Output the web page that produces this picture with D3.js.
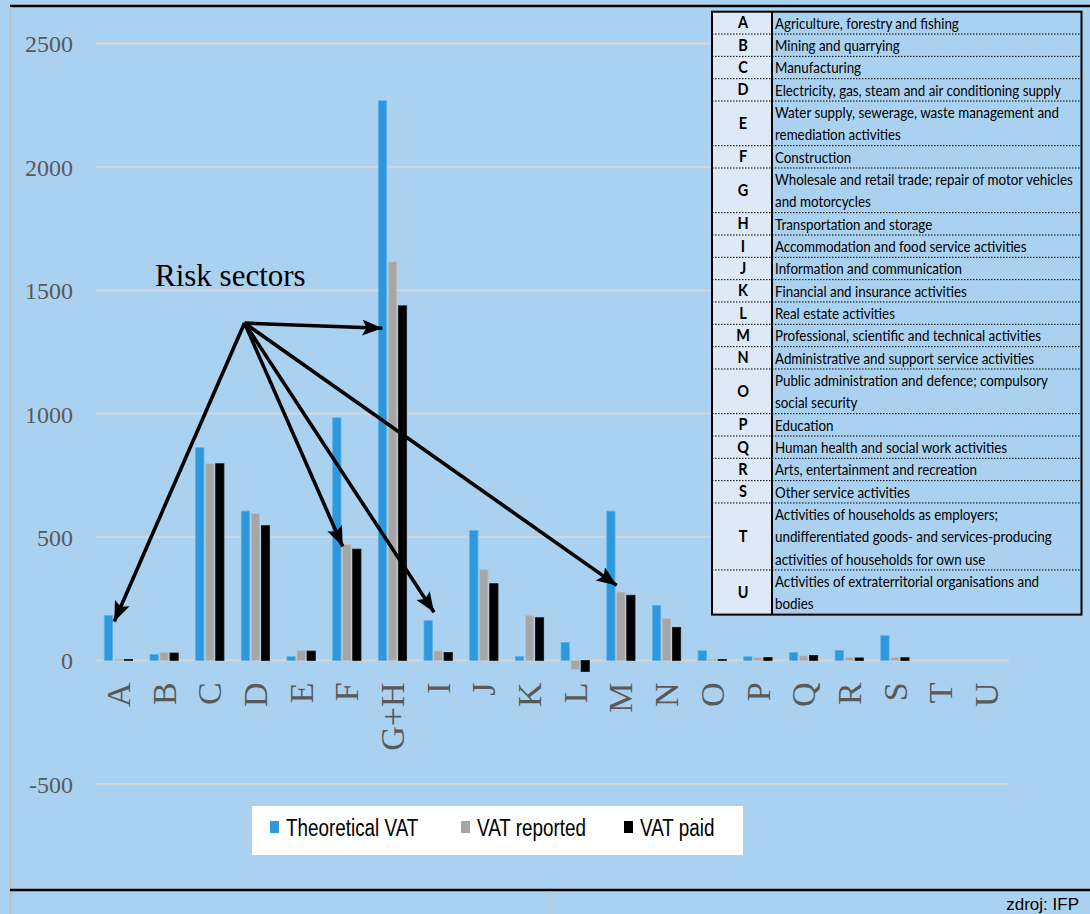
<!DOCTYPE html>
<html>
<head>
<meta charset="utf-8">
<script src="https://cdn.jsdelivr.net/npm/d3@7/dist/d3.min.js"></script>
<style>
  html, body { margin: 0; padding: 0; background: #aad2f0; }
  svg { display: block; }
</style>
</head>
<body>
<svg id="chart" width="1090" height="914"></svg>
<script>
// ---------------- DATA ----------------
const categories = ["A","B","C","D","E","F","G+H","I","J","K","L","M","N","O","P","Q","R","S","T","U"];
const seriesNames = ["Theoretical VAT", "VAT reported", "VAT paid"];
const theoreticalVAT = [182, 24, 862, 605, 15, 983, 2268, 161, 526, 15, 73, 605, 223, 39, 15, 32, 40, 100, 0, 0];
const vatReported    = [5, 32, 797, 595, 40, 470, 1615, 38, 368, 182, -36, 277, 170, 4, 11, 18, 12, 12, 0, 0];
const vatPaid        = [4, 30, 797, 546, 38, 451, 1437, 32, 311, 173, -45, 264, 134, 4, 12, 20, 10, 11, 0, 0];
const yTicks = [-500, 0, 500, 1000, 1500, 2000, 2500];

const annotationLabel = "Risk sectors";
// arrow targets (category, series bar it points at, value level)
const riskTargets = [
  {cat: "A",   series: "VAT reported",    value: 158},
  {cat: "F",   series: "VAT reported",    value: 462},
  {cat: "G+H", series: "Theoretical VAT", value: 1346},
  {cat: "I",   series: "VAT reported",    value: 195},
  {cat: "M",   series: "VAT reported",    value: 304}
];
const riskOrigin = {cat: "D", value: 1367};

const sectorCodes = ["A","B","C","D","E","F","G","H","I","J","K","L","M","N","O","P","Q","R","S","T","U"];
const sectorNames = [
  ["Agriculture, forestry and fishing"],
  ["Mining and quarrying"],
  ["Manufacturing"],
  ["Electricity, gas, steam and air conditioning supply"],
  ["Water supply, sewerage, waste management and", "remediation activities"],
  ["Construction"],
  ["Wholesale and retail trade; repair of motor vehicles", "and motorcycles"],
  ["Transportation and storage"],
  ["Accommodation and food service activities"],
  ["Information and communication"],
  ["Financial and insurance activities"],
  ["Real estate activities"],
  ["Professional, scientific and technical activities"],
  ["Administrative and support service activities"],
  ["Public administration and defence; compulsory", "social security"],
  ["Education"],
  ["Human health and social work activities"],
  ["Arts, entertainment and recreation"],
  ["Other service activities"],
  ["Activities of households as employers;", "undifferentiated goods- and services-producing", "activities of households for own use"],
  ["Activities of extraterritorial organisations and", "bodies"]
];
const sourceText = "zdroj: IFP";

// ---------------- LAYOUT ----------------
const W = 1090, H = 914;
const BG = "#aad2f0";
const colors = {"Theoretical VAT": "#2e98dc", "VAT reported": "#a6a6a6", "VAT paid": "#000000"};
const strokes = {"Theoretical VAT": "#5ab0e8", "VAT reported": "#bdbdbd", "VAT paid": "#1a1a1a"};

const svg = d3.select("#chart");
svg.append("rect").attr("width", W).attr("height", H).attr("fill", BG);

// frame lines
svg.append("line").attr("x1", 10).attr("x2", W).attr("y1", 6).attr("y2", 6)
  .attr("stroke", "#000").attr("stroke-width", 2.5);
svg.append("line").attr("x1", 10.5).attr("x2", 10.5).attr("y1", 7).attr("y2", H)
  .attr("stroke", "#c0c0c0").attr("stroke-width", 2);
svg.append("line").attr("x1", 10).attr("x2", W).attr("y1", 890).attr("y2", 890)
  .attr("stroke", "#000").attr("stroke-width", 2.5);
svg.append("line").attr("x1", 550.5).attr("x2", 550.5).attr("y1", 891).attr("y2", H)
  .attr("stroke", "#c8c8c8").attr("stroke-width", 1.2);
svg.append("text").attr("x", 1079).attr("y", 910).attr("text-anchor", "end")
  .attr("font-family", "Liberation Sans, Arial, sans-serif").attr("font-size", 17)
  .attr("fill", "#000").text(sourceText);

// scales
const x0 = d3.scaleBand().domain(categories).range([96, 1009.5]).padding(0);
const x1 = d3.scaleBand().domain(seriesNames).range([8.3, 36.6]).paddingInner(0.17).paddingOuter(0);
const y = d3.scaleLinear().domain([-500, 2500]).range([783.8, 43.5]);

// gridlines
svg.append("g").selectAll("line").data(yTicks).join("line")
  .attr("x1", 96).attr("x2", 1009).attr("y1", d => y(d)).attr("y2", d => y(d))
  .attr("stroke", "#d6d6d6").attr("stroke-width", 1.8);

// y axis labels via d3 axis
const yAxis = d3.axisLeft(y).tickValues(yTicks).tickSize(0).tickPadding(0).tickFormat(d => String(d));
const yg = svg.append("g").attr("transform", "translate(73,0)").call(yAxis);
yg.select(".domain").remove();
yg.selectAll("text").attr("font-family", "Liberation Serif, Times New Roman, serif")
  .attr("font-size", 24).attr("fill", "#595959").attr("dy", "0.35em");

// bars
const seriesData = [theoreticalVAT, vatReported, vatPaid];
const groups = svg.append("g").selectAll("g").data(categories).join("g")
  .attr("transform", d => `translate(${x0(d)},0)`);
groups.selectAll("rect").data((c, i) => seriesNames.map((s, k) => ({s, v: seriesData[k][i]})))
  .join("rect")
  .attr("x", d => x1(d.s))
  .attr("width", x1.bandwidth())
  .attr("y", d => d.v >= 0 ? y(d.v) : y(0))
  .attr("height", d => Math.abs(y(d.v) - y(0)))
  .attr("fill", d => colors[d.s])
  .attr("stroke", d => strokes[d.s]).attr("stroke-width", 0.8);

// x axis labels via d3 axis
const xAxis = d3.axisBottom(x0).tickSize(0).tickPadding(0);
const xg = svg.append("g").attr("transform", `translate(0,${y(0)})`).call(xAxis);
xg.select(".domain").remove();
xg.selectAll("text")
  .attr("font-family", "Liberation Serif, Times New Roman, serif")
  .attr("font-size", 34).attr("fill", "#595959")
  .attr("transform", "rotate(-90)")
  .attr("text-anchor", "end")
  .attr("x", -22).attr("y", 0).attr("dy", "0.33em");

// annotation
svg.append("text").attr("x", 155).attr("y", 285.5)
  .attr("font-family", "Liberation Serif, Times New Roman, serif")
  .attr("font-size", 31).attr("fill", "#000").text(annotationLabel);

const defs = svg.append("defs");
defs.append("marker").attr("id", "ah").attr("viewBox", "0 0 20 16")
  .attr("refX", 20).attr("refY", 8).attr("markerWidth", 21).attr("markerHeight", 16)
  .attr("markerUnits", "userSpaceOnUse").attr("orient", "auto")
  .append("path").attr("d", "M0,0 L20,8 L0,16 L4,8 Z").attr("fill", "#000");

const ox = x0(riskOrigin.cat) + 11.5, oy = y(riskOrigin.value);
svg.append("g").selectAll("line").data(riskTargets).join("line")
  .attr("x1", ox).attr("y1", oy)
  .attr("x2", d => x0(d.cat) + x1(d.series) + (d.series === "Theoretical VAT" ? 4 : 0))
  .attr("y2", d => y(d.value))
  .attr("stroke", "#000").attr("stroke-width", 3.6)
  .attr("marker-end", "url(#ah)");

// legend
const lg = svg.append("g");
lg.append("rect").attr("x", 252).attr("y", 806).attr("width", 491).attr("height", 49).attr("fill", "#fff");
const legendX = [270, 461, 624];
seriesNames.forEach((s, i) => {
  lg.append("rect").attr("x", legendX[i]).attr("y", 821).attr("width", 9).attr("height", 12).attr("fill", colors[s]);
  lg.append("text").attr("transform", `translate(${legendX[i] + 16},836) scale(0.82,1)`)
    .attr("font-family", "Liberation Sans, Arial, sans-serif")
    .attr("font-size", 23).attr("fill", "#000").text(s);
});

// sector table
const tX = 712, tY = 11.7, tW = 369.5, colW = 60, lineH = 22.33;
const tg = svg.append("g");
let cum = 0;
const rows = sectorCodes.map((c, i) => {
  const r = {code: c, lines: sectorNames[i], top: tY + cum * lineH, h: sectorNames[i].length * lineH};
  cum += sectorNames[i].length;
  return r;
});
const tH = cum * lineH;
tg.append("rect").attr("x", tX).attr("y", tY).attr("width", tW).attr("height", tH).attr("fill", BG);
tg.append("rect").attr("x", tX).attr("y", tY).attr("width", colW).attr("height", tH).attr("fill", "#dde9f6");
// dotted separators
tg.selectAll("line.sep").data(rows.slice(1)).join("line").attr("class", "sep")
  .attr("x1", tX).attr("x2", tX + tW).attr("y1", d => d.top).attr("y2", d => d.top)
  .attr("stroke", "#000").attr("stroke-width", 1).attr("stroke-dasharray", "1.5,1.5");
tg.append("rect").attr("x", tX).attr("y", tY).attr("width", tW).attr("height", tH)
  .attr("fill", "none").attr("stroke", "#000").attr("stroke-width", 2);
tg.append("line").attr("x1", tX + colW).attr("x2", tX + colW).attr("y1", tY).attr("y2", tY + tH)
  .attr("stroke", "#000").attr("stroke-width", 2);
tg.selectAll("text.code").data(rows).join("text").attr("class", "code")
  .attr("transform", d => `translate(${tX + colW / 2 + 1},${d.top + d.h / 2 + 5.5}) scale(1,1.12)`)
  .attr("text-anchor", "middle").attr("font-family", "Lato, sans-serif").attr("font-weight", "bold")
  .attr("font-size", 14.5).attr("fill", "#000").text(d => d.code);
rows.forEach(r => {
  r.lines.forEach((ln, j) => {
    tg.append("text").attr("transform", `translate(${tX + colW + 3},${r.top + 17 + j * lineH}) scale(0.99,1.12)`)
      .attr("font-family", "Lato, sans-serif").attr("font-size", 13.5).attr("fill", "#000").text(ln);
  });
});
</script>
</body>
</html>
